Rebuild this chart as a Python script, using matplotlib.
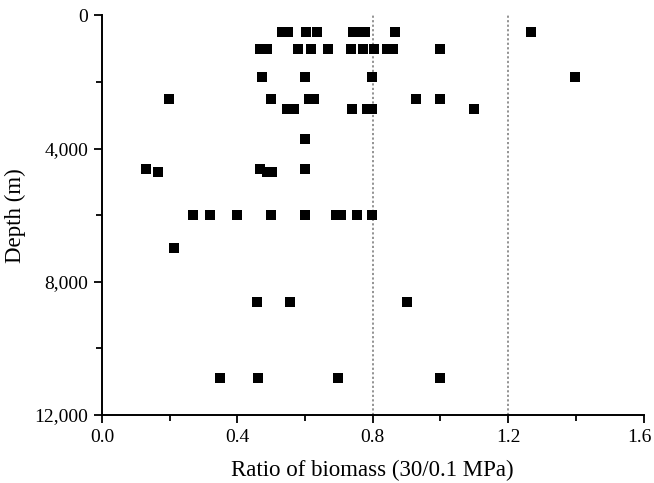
import matplotlib
matplotlib.use("Agg")
import matplotlib.pyplot as plt
import matplotlib.transforms as mtransforms
from matplotlib.ticker import FuncFormatter, MultipleLocator

depth_levels = [500, 1000, 1850, 2500, 2800, 3700, 4600, 4700, 6000, 7000, 8600, 10900]
ratio_by_level = [
    [0.531, 0.549, 0.602, 0.635, 0.741, 0.758, 0.776, 0.865, 1.267],
    [0.466, 0.486, 0.579, 0.616, 0.669, 0.737, 0.771, 0.804, 0.842, 0.859, 0.998],
    [0.472, 0.599, 0.799, 1.398],
    [0.198, 0.499, 0.613, 0.627, 0.929, 0.998],
    [0.548, 0.567, 0.739, 0.782, 0.799, 1.099],
    [0.599],
    [0.129, 0.468, 0.599],
    [0.165, 0.486, 0.501],
    [0.269, 0.319, 0.400, 0.499, 0.599, 0.690, 0.705, 0.754, 0.799],
    [0.213],
    [0.459, 0.554, 0.900],
    [0.349, 0.462, 0.698, 0.998],
]
ref_lines = [0.8, 1.2]

ratio = [r for rs in ratio_by_level for r in rs]
depth = [d for d, rs in zip(depth_levels, ratio_by_level) for _ in rs]

fig = plt.figure(figsize=(6.54, 4.83), dpi=100)
ax = fig.add_axes([0.156, 0.141, 0.828, 0.827])

for xv in ref_lines:
    ax.axvline(xv, color="#8a8a8a", lw=1.3, ls=(0, (1.2, 1.3)), zorder=1)
ax.scatter(ratio, depth, marker="s", s=42, color="black", zorder=3, linewidths=0)

ax.set_xlim(0, 1.6)
ax.set_ylim(12000, 0)
ax.xaxis.set_major_locator(MultipleLocator(0.4))
ax.xaxis.set_minor_locator(MultipleLocator(0.2))
ax.yaxis.set_major_locator(MultipleLocator(4000))
ax.yaxis.set_minor_locator(MultipleLocator(2000))
ax.xaxis.set_major_formatter(FuncFormatter(lambda v, p: f"{v:.1f}"))
ax.yaxis.set_major_formatter(FuncFormatter(lambda v, p: f"{int(v):,}"))

for s in ["top", "right"]:
    ax.spines[s].set_visible(False)
for s in ["left", "bottom"]:
    ax.spines[s].set_linewidth(1.4)
ax.tick_params(which="major", direction="out", length=6, width=1.3)
ax.tick_params(which="minor", direction="out", length=4, width=1.3)
ax.tick_params(axis="both", labelsize=14, pad=4)

fig.canvas.draw()
xlabels = ax.get_xticklabels()
for lab in xlabels + ax.get_yticklabels():
    lab.set_fontfamily("Liberation Serif")
ax.get_yticklabels()[-1].set_fontfamily("Liberation Sans")
ax.get_yticklabels()[-1].set_fontsize(13)
last = [l for l in xlabels if l.get_text() == "1.6"]
for l in last:
    l.set_transform(l.get_transform() + mtransforms.ScaledTranslation(-4 / 100, 0, fig.dpi_scale_trans))

ax.set_xlabel("Ratio of biomass (30/0.1 MPa)", fontfamily="Liberation Serif", fontsize=16.5, labelpad=10)
ax.set_ylabel("Depth (m)", fontfamily="Liberation Serif", fontsize=16.5, labelpad=6)

fig.savefig("out.png", dpi=100)
